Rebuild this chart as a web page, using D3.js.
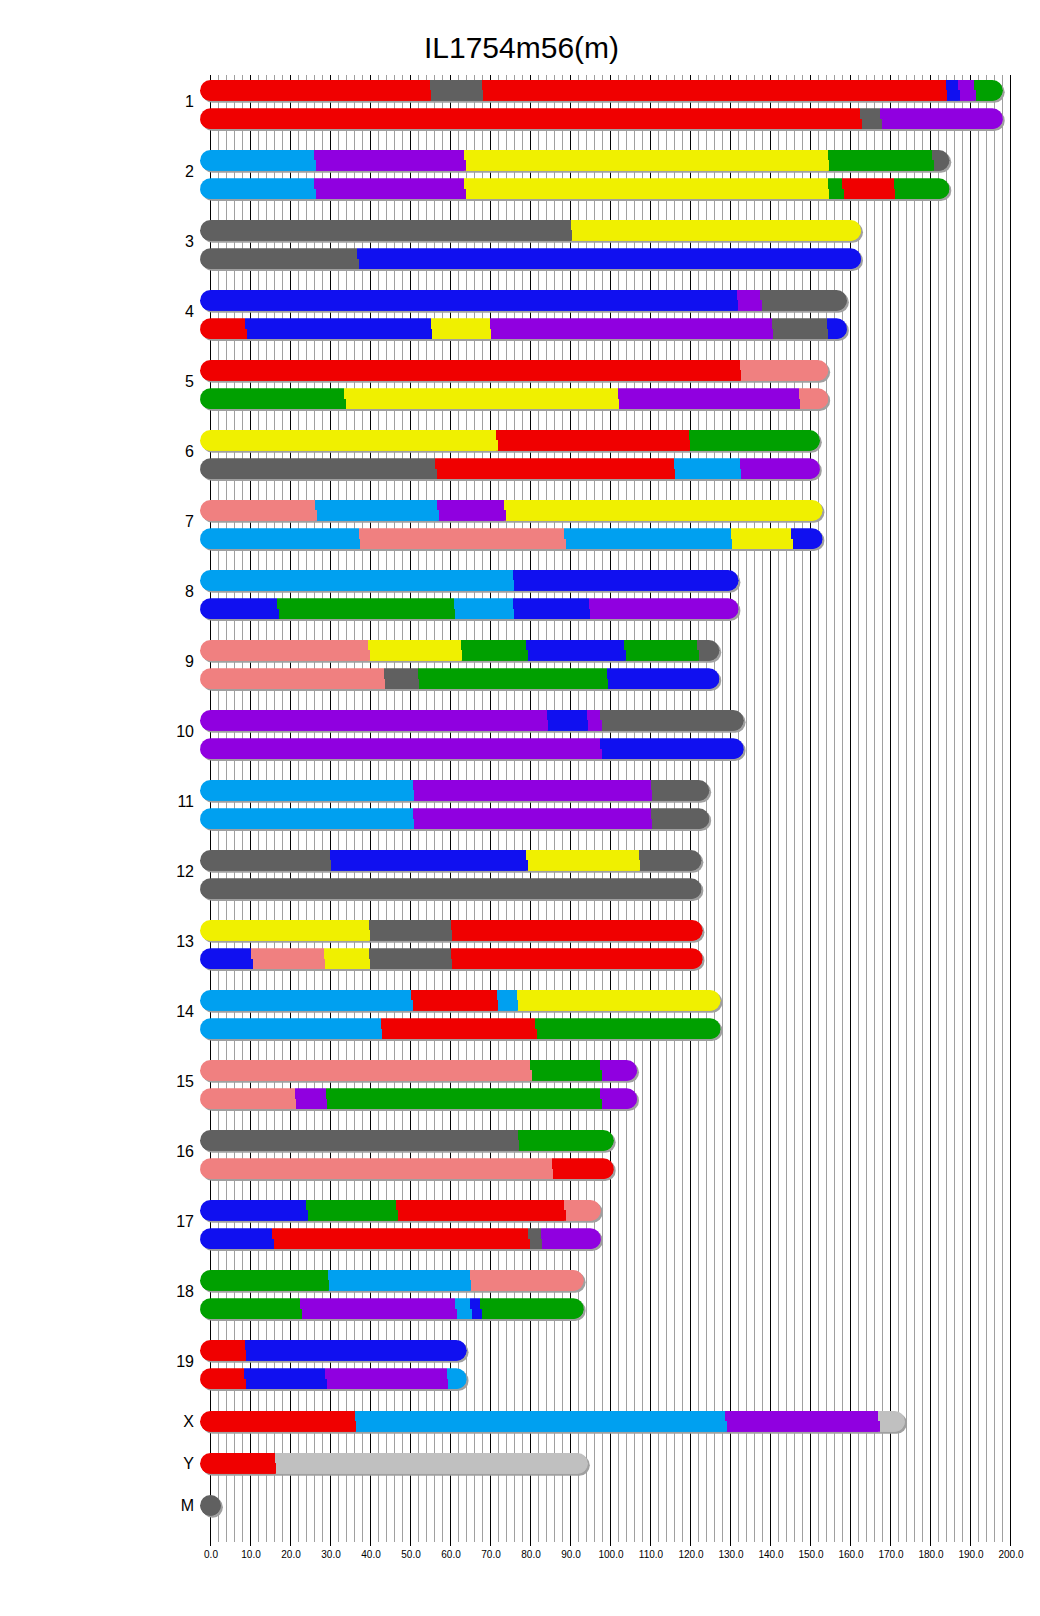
<!DOCTYPE html>
<html><head><meta charset="utf-8">
<script src="https://cdn.jsdelivr.net/npm/d3@7"></script>
<style>
body{margin:0;background:#fff;}
svg{display:block;font-family:"Liberation Sans",Arial,Helvetica,sans-serif;}
</style>
</head><body>
<svg id="chart" width="1040" height="1616"></svg>
<script>
// ---------- data ----------
const chartTitle = "IL1754m56(m)";
const chromosomes = ["1","2","3","4","5","6","7","8","9","10","11","12","13","14","15","16","17","18","19","X","Y","M"];
const chromLengths = [195.47,182.11,160.04,156.51,151.83,149.74,150.4,129.40,124.60,130.69,122.08,120.13,120.42,124.90,104.04,98.21,94.99,90.70,61.43,171.03,91.74,0.016];
const founderCodes = ["A","B","C","D","E","F","G","H","N"];
const founderColors = ["#f0f000","#606060","#f08080","#1010f0","#00a0f0","#00a000","#f00000","#9000e0","#c0c0c0"];
// haplotype 1 (upper bar) founders and breakpoints (Mb)
const hap1Founders = ["GBGDHF","EHAFB","BA","DHB","GC","AGF","CEHA","ED","CAFDFB","HDHB","EHB","BDAB","ABG","EGEA","CFH","BF","DFGC","FEC","GD","GEHN","GN","B"];
const hap1Breaks = [
  [54.75,67.8,183.75,186.9,190.9],[25.9,63.4,154.3,180.4],[90.1],[131.5,137.4],[132.3],
  [71.4,119.6],[26.2,56.7,73.4],[75.5],[39.4,62.6,78.9,103.4,121.7],[84.0,94.1,97.4],
  [50.5,110.1],[29.8,78.9,107.0],[39.6,60.0],[50.2,71.6,76.5],[79.9,97.4],[76.8],
  [23.9,46.4,88.4],[29.25,64.75],[8.6],[36.0,128.7,166.9],[16.0],[]
];
// haplotype 2 (lower bar)
const hap2Founders = ["GBH","EHAFGF","BD","GDAHBD","FAHC","BGEH","ECEAD","DFEDH","CBFD","HD","EHB","B","DCABG","EGF","CHFH","CG","DGBH","FHEDF","GDHE",null,null,null];
const hap2Breaks = [
  [162.4,167.4],[25.9,63.4,154.3,157.9,170.75],[36.7],[8.7,55.1,69.8,140.3,154.0],[33.4,101.8,147.0],
  [56.2,115.8,132.3],[37.1,88.4,130.0,145.2],[16.7,60.8,75.5,94.6],[43.3,51.8,99.0],[97.4],
  [50.5,110.1],[],[10.2,28.3,39.6,60.0],[42.5,81.2],[21.1,28.8,97.4],[85.3],
  [15.4,79.4,82.5],[22.4,61.2,64.9,67.4],[8.4,28.7,59.0],null,null,null
];
const majorTicks = [0,10,20,30,40,50,60,70,80,90,100,110,120,130,140,150,160,170,180,190,200];

// ---------- layout ----------
const svg = d3.select("#chart");
const x = d3.scaleLinear().domain([0,200]).range([210.5,1010.5]);
const color = d3.scaleOrdinal().domain(founderCodes).range(founderColors);
const barH = 20.7, r = barH/2, pairGap = 28.3;
const gridTop = 75, majorBottom = 1546, minorBottom = 1542;
const shift = 1.5;

function rowTop(i){ return i < 19 ? 80 + 70*i : 1411 + 42*(i-19); }

// title
svg.append("text").attr("x",521.5).attr("y",58).attr("text-anchor","middle")
  .attr("font-size","30px").attr("fill","#000").text(chartTitle);

// grid lines
const grid = svg.append("g");
grid.selectAll("line.minor").data(x.ticks(100).filter(v => majorTicks.indexOf(v) < 0)).join("line")
  .attr("class","minor").attr("x1",d=>x(d)).attr("x2",d=>x(d))
  .attr("y1",gridTop).attr("y2",minorBottom).attr("stroke","#a0a0a0").attr("stroke-width",1);
grid.selectAll("line.major").data(majorTicks).join("line")
  .attr("class","major").attr("x1",d=>x(d)).attr("x2",d=>x(d))
  .attr("y1",gridTop).attr("y2",majorBottom).attr("stroke","#000").attr("stroke-width",1);

// axis labels
const axis = d3.axisBottom(x).tickValues(majorTicks).tickSize(0).tickPadding(5).tickFormat(d3.format(".1f"));
const ag = svg.append("g").attr("transform",`translate(0,${majorBottom})`).call(axis);
ag.select(".domain").remove();
ag.selectAll("text").attr("font-size","10px").attr("fill","#000").attr("font-family","'Liberation Sans',Arial,sans-serif");

// bars
const defs = svg.append("defs");
let clipId = 0;
function drawBar(g, y, len, founders, breaks){
  const left = x(0) - r, right = x(len) + r;
  g.append("rect").attr("x",left+2).attr("y",y+2).attr("width",right-left).attr("height",barH)
    .attr("rx",r).attr("ry",r).attr("fill","#a0a0a0");
  const id = "clip" + (clipId++);
  defs.append("clipPath").attr("id",id).append("rect")
    .attr("x",left).attr("y",y).attr("width",right-left).attr("height",barH).attr("rx",r).attr("ry",r);
  const sg = g.append("g").attr("clip-path",`url(#${id})`);
  const edges = [0].concat(breaks).concat([len]);
  const segs = founders.split("").map((f,k)=>({f, s:edges[k], e:edges[k+1], first:k===0, last:k===founders.length-1}));
  // full-height layer, then lower half shifted slightly right
  [0,1].forEach(half=>{
    const off = half ? shift : 0;
    sg.selectAll(null).data(segs).join("rect")
      .attr("x",d=> d.first ? left-3 : x(d.s)+off)
      .attr("width",d=> (d.last ? right+3 : x(d.e)+off) - (d.first ? left-3 : x(d.s)+off))
      .attr("y", y + (half ? barH/2 : 0)).attr("height", half ? barH/2 : barH)
      .attr("fill", d=>color(d.f)).attr("shape-rendering","crispEdges");
  });
}

const bars = svg.append("g");
chromosomes.forEach((c,i)=>{
  const T = rowTop(i);
  const g = bars.append("g");
  drawBar(g, T, chromLengths[i], hap1Founders[i], hap1Breaks[i]);
  let labelY;
  if (hap2Founders[i]) {
    drawBar(g, T + pairGap, chromLengths[i], hap2Founders[i], hap2Breaks[i]);
    labelY = T + 26.8;
  } else {
    labelY = T + r + 5.8;
  }
  svg.append("text").attr("x",194).attr("y",labelY).attr("text-anchor","end")
    .attr("font-size","16px").attr("fill","#000").text(c);
});
</script>
</body></html>
